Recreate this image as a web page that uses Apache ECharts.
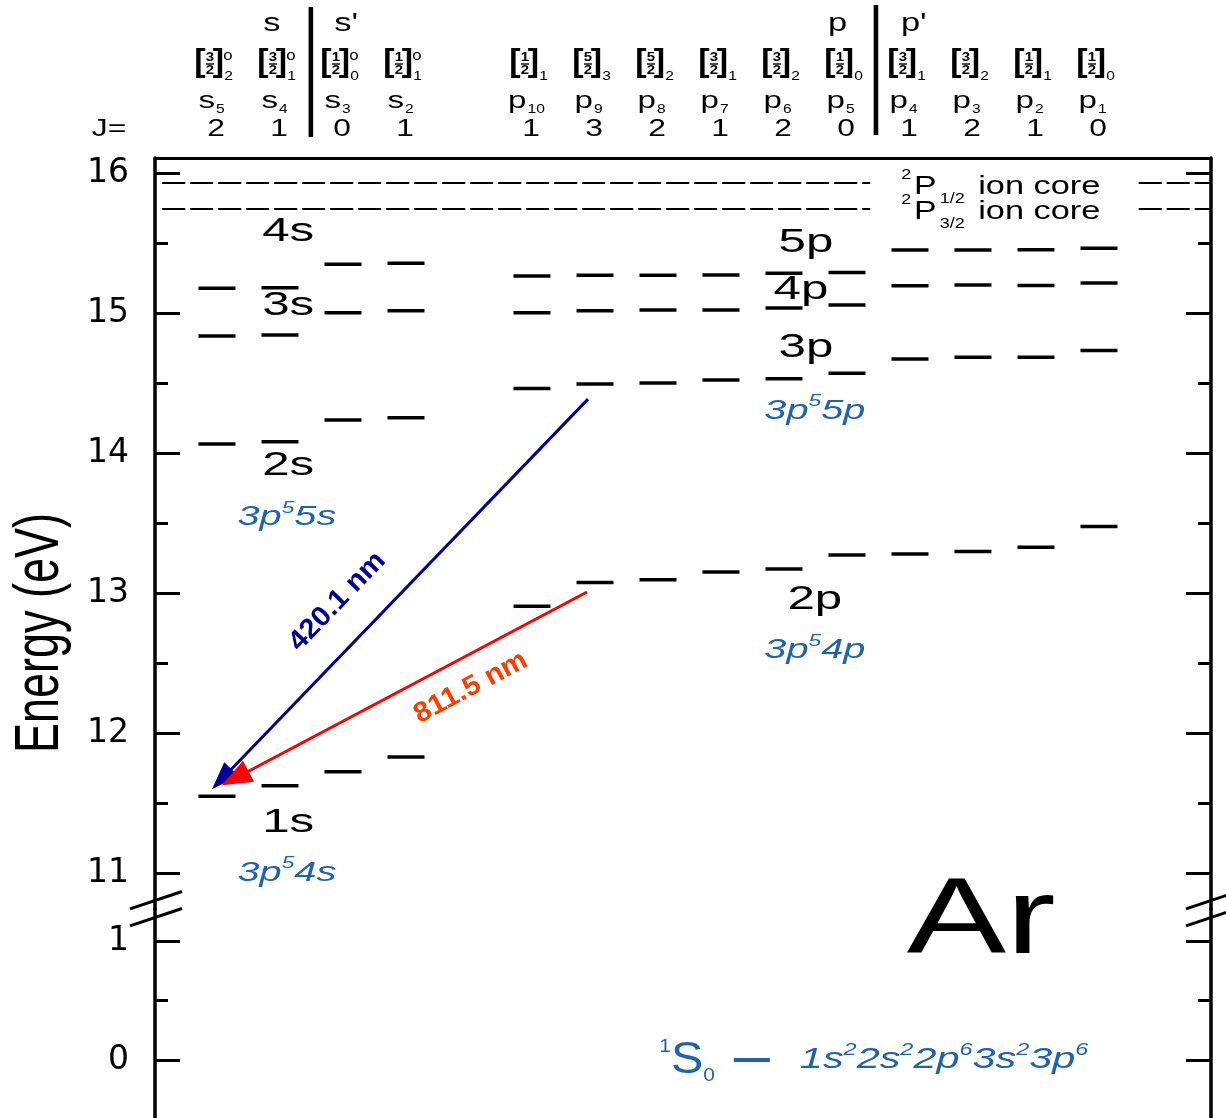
<!DOCTYPE html>
<html>
<head>
<meta charset="utf-8">
<title>Ar energy levels</title>
<script src="https://cdn.jsdelivr.net/npm/echarts@6.0.0/dist/echarts.min.js"></script>
<style>
html, body { margin: 0; padding: 0; background: #fff; }
#chart { width: 1226px; height: 1118px; }
</style>
</head>
<body>
<div id="chart"></div>
<script>
// ---------------- Level data (energies in eV, Paschen notation) ----------------
const sColumns = ['s5', 's4', 's3', 's2'];
const pColumns = ['p10', 'p9', 'p8', 'p7', 'p6', 'p5', 'p4', 'p3', 'p2', 'p1'];
const sJ = ['2', '1', '0', '1'];
const pJ = ['1', '3', '2', '1', '2', '0', '1', '2', '1', '0'];
const sCoreK = ['3/2', '3/2', '1/2', '1/2'];
const pCoreK = ['1/2', '5/2', '5/2', '3/2', '3/2', '1/2', '3/2', '3/2', '1/2', '1/2'];

// 3p5 ns configurations (s columns)
const levels1s = [11.548, 11.624, 11.723, 11.828];
const levels2s = [14.064, 14.081, 14.236, 14.252];
const levels3s = [14.836, 14.843, 15.002, 15.016];
const levels4s = [15.176, 15.180, 15.348, 15.355];
// 3p5 np configurations (p columns)
const levels2p = [12.905, 13.075, 13.094, 13.150, 13.171, 13.272, 13.278, 13.297, 13.327, 13.475];
const levels3p = [14.460, 14.492, 14.500, 14.522, 14.530, 14.570, 14.672, 14.683, 14.684, 14.732];
const levels4p = [15.002, 15.016, 15.021, 15.022, 15.036, 15.057, 15.195, 15.200, 15.196, 15.214];
const levels5p = [15.264, 15.270, 15.270, 15.271, 15.283, 15.290, 15.450, 15.450, 15.451, 15.462];

// Ionisation limits: 2P1/2 and 2P3/2 ion cores
const ionLimits = [15.931, 15.748];
const ionTerms = [['2', 'P', '1/2'], ['2', 'P', '3/2']];
const groundEnergy = 0;

// Group labels
const sGroupNames = ['1s', '2s', '3s', '4s'];
const pGroupNames = ['2p', '3p', '4p', '5p'];
const sConfigs = [['3p', '5', '4s'], ['3p', '5', '5s']];
const pConfigs = [['3p', '5', '4p'], ['3p', '5', '5p']];
const groundTerm = ['1', 'S', '0'];
const groundConfig = [['1s', '2'], ['2s', '2'], ['2p', '6'], ['3s', '2'], ['3p', '6']];
const elementName = 'Ar';

// Axis ticks
const upperMajorTicks = [11, 12, 13, 14, 15, 16];
const upperMinorTicks = [11.5, 12.5, 13.5, 14.5, 15.5];
const lowerMajorTicks = [0, 1];
const lowerMinorTicks = [0.5];

// Transitions drawn as arrows
const transitions = [
  { label: '420.1 nm', fromCol: 'p9', fromE: levels3p[1], toCol: 's5', toE: levels1s[0] },
  { label: '811.5 nm', fromCol: 'p9', fromE: levels2p[1], toCol: 's5', toE: levels1s[0] }
];

// ---------------- Layout / style ----------------
const FONT = '"Liberation Sans", Arial, Helvetica, sans-serif';
const SX = 1.38;
const BLUE = '#1f63ad';
const NAVY = '#000094';
const RED = '#ff0000';
const ORANGE = '#ff3c00';

const X_MIN = -0.984, X_MAX = 15.778;
const TOP = 158, SPLIT = 909;
const UP = [10.743, 16.107];
const LO = [-0.487, 1.269];

const sSlots = sColumns.map((_, i) => i);
const pSlots = pColumns.map((_, i) => i + 5);
const allColumns = sColumns.concat(pColumns);
const allSlots = sSlots.concat(pSlots);
const allJ = sJ.concat(pJ);
const allK = sCoreK.concat(pCoreK);
const slotOf = name => allSlots[allColumns.indexOf(name)];

function valueAxis(gridIndex, range, position, ticks, tickLen, showLine, labels) {
  return {
    type: 'value', gridIndex, min: range[0], max: range[1], position,
    axisLine: { show: showLine, onZero: false, lineStyle: { color: '#000', width: 3.5 } },
    axisTick: { show: true, inside: true, length: tickLen, customValues: ticks,
                lineStyle: { color: '#000', width: 3 } },
    axisLabel: labels ? { show: true, customValues: labels, margin: 26, color: '#000',
                          fontFamily: 'DejaVu Sans', fontSize: 33, formatter: v => String(v) }
                      : { show: false },
    splitLine: { show: false }, minorTick: { show: false }, minorSplitLine: { show: false }
  };
}

const levelData = [];
[levels1s, levels2s, levels3s, levels4s].forEach(row => row.forEach((e, i) => levelData.push([sSlots[i], e])));
[levels2p, levels3p, levels4p, levels5p].forEach(row => row.forEach((e, i) => levelData.push([pSlots[i], e])));

const chart = echarts.init(document.getElementById('chart'), null, { renderer: 'canvas' });

const levelSeries = [
  { id: 'levels', type: 'scatter', xAxisIndex: 0, yAxisIndex: 0, silent: true,
    symbol: 'rect', symbolSize: [37, 3.5], itemStyle: { color: '#000', opacity: 1 },
    data: levelData, z: 3 },
  { id: 'ground', type: 'scatter', xAxisIndex: 1, yAxisIndex: 4, silent: true,
    symbol: 'rect', symbolSize: [36, 4], itemStyle: { color: BLUE, opacity: 1 },
    data: [[8.49, groundEnergy]], z: 3 }
];

chart.setOption({
  animation: false,
  backgroundColor: '#fff',
  grid: [
    { left: 155, right: 15, top: TOP, height: SPLIT - TOP, containLabel: false, outerBoundsMode: 'none' },
    { left: 155, right: 15, top: SPLIT, bottom: 0, containLabel: false, outerBoundsMode: 'none' }
  ],
  xAxis: [
    { type: 'value', gridIndex: 0, min: X_MIN, max: X_MAX, position: 'top',
      axisLine: { show: true, onZero: false, lineStyle: { color: '#000', width: 3 } },
      axisTick: { show: false }, axisLabel: { show: false }, splitLine: { show: false } },
    { type: 'value', gridIndex: 1, min: X_MIN, max: X_MAX, show: false,
      axisLine: { show: false }, axisTick: { show: false }, axisLabel: { show: false }, splitLine: { show: false } }
  ],
  yAxis: [
    valueAxis(0, UP, 'left', upperMajorTicks, 25, true, upperMajorTicks),
    valueAxis(0, UP, 'left', upperMinorTicks, 13, false, null),
    valueAxis(0, UP, 'right', upperMajorTicks, 25, true, null),
    valueAxis(0, UP, 'right', upperMinorTicks, 13, false, null),
    valueAxis(1, LO, 'left', lowerMajorTicks, 25, true, lowerMajorTicks),
    valueAxis(1, LO, 'left', lowerMinorTicks, 13, false, null),
    valueAxis(1, LO, 'right', lowerMajorTicks, 25, true, null),
    valueAxis(1, LO, 'right', lowerMinorTicks, 13, false, null)
  ],
  series: levelSeries
});

// ---------------- Helpers working through the axes ----------------
const p0 = (x, y) => chart.convertToPixel({ xAxisIndex: 0, yAxisIndex: 0 }, [x, y]);
const p1 = (x, y) => chart.convertToPixel({ xAxisIndex: 1, yAxisIndex: 4 }, [x, y]);
const d0 = pt => chart.convertFromPixel({ xAxisIndex: 0, yAxisIndex: 0 }, pt);

function T(x, y, text, o = {}) {
  const style = {
    text, fill: o.color || '#000',
    fontSize: o.size || 24, fontFamily: o.family || FONT,
    fontStyle: o.style || 'normal', fontWeight: o.weight || 'normal',
    textAlign: o.align || 'center', textVerticalAlign: o.valign || 'middle'
  };
  if (o.rich) style.rich = o.rich;
  return { type: 'text', x, y, silent: true, z: 100,
           scaleX: o.sx != null ? o.sx : SX, scaleY: o.sy != null ? o.sy : 1,
           rotation: o.rot || 0, style };
}
function L(x1, y1, x2, y2, w, color) {
  return { type: 'line', silent: true, z: 100,
           shape: { x1, y1, x2, y2 }, style: { stroke: color || '#000', lineWidth: w } };
}
function richTok(size, color, italic, valign, lh) {
  return { fontSize: size, fontFamily: FONT, fontStyle: italic ? 'italic' : 'normal',
           fill: color, verticalAlign: valign, lineHeight: lh };
}
function configText(parts) {
  return parts.map(p => '{n|' + p[0] + '}{u|' + p[1] + '}' + (p[2] ? '{n|' + p[2] + '}' : '')).join('');
}

const g = [];

// ---- Column header: parity groups, jK labels, Paschen labels, J ----
const headerGroups = [['s', 0.87], ["s'", 2.05], ['p', 9.85], ["p'", 11.06]];
headerGroups.forEach(([t, slot]) => g.push(T(p0(slot, UP[1])[0], 24.5, t, { size: 25 })));

allColumns.forEach((name, i) => {
  const cx = p0(allSlots[i], UP[1])[0];
  const [num, den] = allK[i].split('/');
  g.push(T(cx - 17, 62, '[', { size: 31, sx: 1.1, weight: 'bold' }));
  g.push(T(cx - 7, 57.5, num, { size: 13, sx: 1.15, weight: 'bold' }));
  g.push(L(cx - 11, 64, cx - 3, 64, 1.4));
  g.push(T(cx - 7, 70.5, den, { size: 13, sx: 1.15, weight: 'bold' }));
  g.push(T(cx + 1.5, 62, ']', { size: 31, sx: 1.1, weight: 'bold' }));
  if (name[0] === 's') g.push(T(cx + 11, 56, 'o', { size: 14, sx: 1.2 }));
  g.push(T(cx + 11.5, 76, allJ[i], { size: 13, sx: 1.2 }));

  const letter = name[0], sub = name.slice(1);
  const shift = 3.5 * (sub.length - 1);
  g.push(T(cx - 2 - shift, 101.5, letter, { size: 24, align: 'right' }));
  g.push(T(cx - 1 - shift, 109, sub, { size: 13, align: 'left', sx: 1.2 }));
  g.push(T(cx - 1, 130, allJ[i], { size: 23 }));
});
g.push(T(109, 130, 'J=', { size: 23 }));
// dividers between the 2P3/2 and 2P1/2 core groups
[[1.49, 7, 137], [10.46, 5, 135]].forEach(([slot, y1, y2]) => {
  const x = p0(slot, UP[1])[0];
  g.push({ type: 'rect', silent: true, z: 100, shape: { x: x - 2.3, y: y1, width: 4.6, height: y2 - y1 },
           style: { fill: '#000' } });
});

// ---- Axis title ----
g.push(T(41, 633, 'Energy (eV)', { size: 45, rot: Math.PI / 2, sx: 1, sy: 1.4 }));

// ---- Group labels ----
const sGroupAnchor = { '1s': [1.13, 11.36], '2s': [1.13, 13.91], '3s': [1.13, 15.05], '4s': [1.13, 15.58] };
const pGroupAnchor = { '2p': [9.49, 12.95], '3p': [9.35, 14.75], '4p': [9.27, 15.17], '5p': [9.35, 15.5] };
sGroupNames.forEach(n => { const q = p0(...sGroupAnchor[n]); g.push(T(q[0], q[1], n, { size: 34, sx: 1.45 })); });
pGroupNames.forEach(n => { const q = p0(...pGroupAnchor[n]); g.push(T(q[0], q[1], n, { size: 34, sx: 1.45 })); });

const cfgRich = {
  n: richTok(28, BLUE, true, 'middle', 34),
  u: richTok(16, BLUE, true, 'top', 12)
};
const sCfgAnchor = [[1.11, 11.0], [1.11, 13.54]];
const pCfgAnchor = [[9.49, 12.59], [9.49, 14.30]];
sConfigs.forEach((c, i) => { const q = p0(...sCfgAnchor[i]); g.push(T(q[0], q[1], configText([c]), { rich: cfgRich, sx: 1.42 })); });
pConfigs.forEach((c, i) => { const q = p0(...pCfgAnchor[i]); g.push(T(q[0], q[1], configText([c]), { rich: cfgRich, sx: 1.42 })); });

// ---- Ion core labels ----
ionLimits.forEach((e, i) => {
  const q = p0(10.94, e);
  const [sup, letter, sub] = ionTerms[i];
  g.push(T(q[0], q[1] - 8, sup, { size: 15, sx: 1.2 }));
  g.push(T(q[0] + 19, q[1] + 4, letter, { size: 26, sx: 1.3 }));
  g.push(T(q[0] + 46, q[1] + 16, sub, { size: 15, sx: 1.2 }));
  g.push(T(q[0] + 72, q[1] + 4, 'ion core', { size: 26, sx: 1.32, align: 'left' }));
});

// ---- Element symbol ----
{ const q = p1(12.13, 1.15); g.push(T(q[0], q[1], elementName, { size: 108, sx: 1.38 })); }

// ---- Ground state ----
{
  const q = p1(8.49, groundEnergy);
  g.push(T(q[0] - 37, q[1] + 1, '{a|' + groundTerm[0] + '}{b|' + groundTerm[1] + '}{c|' + groundTerm[2] + '}', {
    align: 'right', sx: 1.1,
    rich: { a: richTok(19, BLUE, false, 'top', 16), b: richTok(44, BLUE, false, 'middle', 48),
            c: richTok(19, BLUE, false, 'bottom', 16) }
  }));
  g.push(T(q[0] + 48, q[1], configText(groundConfig), {
    align: 'left', sx: 1.38,
    rich: { n: richTok(30, BLUE, true, 'middle', 36), u: richTok(17, BLUE, true, 'top', 12) }
  }));
}

// ---- Axis break marks ----
[155, 1211].forEach(ax => {
  [-8.5, 8.5].forEach(dy => {
    const yc = SPLIT + dy;
    g.push(L(ax - 25, yc + 25 / 3, ax + 27, yc - 27 / 3, 3));
  });
});

// ---- Ion-core limits (dashed) ----
const dashSeries = {
  id: 'ionLimits', type: 'lines', coordinateSystem: 'cartesian2d', xAxisIndex: 0, yAxisIndex: 0, silent: true,
  polyline: false, symbol: 'none', z: 2,
  lineStyle: { color: '#000', width: 2, type: [23, 5], opacity: 1, curveness: 0 },
  data: ionLimits.flatMap(e => [{ coords: [[-0.87, e], [10.37, e]] }, { coords: [[14.63, e], [X_MAX, e]] }])
};

// ---- Transition arrows ----
const arrowStyles = [
  { color: NAVY, text: NAVY, startOff: [-7, 15], tipOff: [-5, -7], head: [20, 28], t: 0.59, n: 40 },
  { color: RED, text: ORANGE, startOff: [-8, 9.5], tipOff: [5, -11], head: [24, 30], t: 0.357, n: -30 }
];
const arrowSeries = transitions.map((tr, i) => {
  const st = arrowStyles[i];
  const a = p0(slotOf(tr.fromCol), tr.fromE);
  const b = p0(slotOf(tr.toCol), tr.toE);
  const start = [a[0] + st.startOff[0], a[1] + st.startOff[1]];
  const tip = [b[0] + st.tipOff[0], b[1] + st.tipOff[1]];
  const len = Math.hypot(start[0] - tip[0], start[1] - tip[1]);
  const r = [(start[0] - tip[0]) / len, (start[1] - tip[1]) / len];
  const center = [tip[0] + r[0] * st.head[1] / 2, tip[1] + r[1] * st.head[1] / 2];
  // label along the arrow
  const up = [r[1], -r[0]];
  const m = [start[0] + (tip[0] - start[0]) * st.t + up[0] * st.n,
             start[1] + (tip[1] - start[1]) * st.t + up[1] * st.n];
  g.push(T(m[0], m[1], tr.label, { size: 28, weight: 'bold', color: st.text, sx: 1.05,
                                  rot: Math.atan2(-r[1], r[0]) }));
  return {
    id: 'transition' + i, type: 'lines', coordinateSystem: 'cartesian2d', xAxisIndex: 0, yAxisIndex: 0, silent: true,
    polyline: false, z: 6 + i,
    symbol: ['none', 'triangle'], symbolSize: [1, st.head],
    lineStyle: { color: st.color, width: 3, opacity: 1, curveness: 0 },
    data: [{ coords: [d0(start), d0(center)] }]
  };
});

chart.setOption({ series: levelSeries.concat([dashSeries], arrowSeries), graphic: g });
</script>
</body>
</html>
